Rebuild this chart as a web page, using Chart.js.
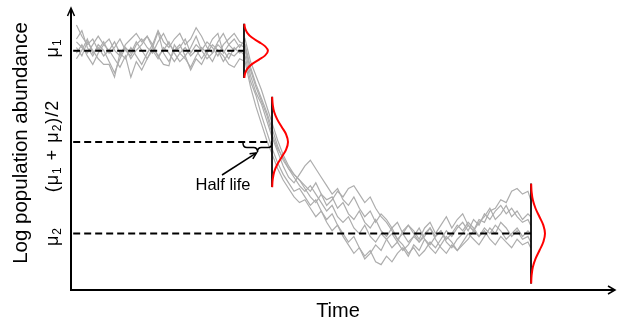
<!DOCTYPE html>
<html><head><meta charset="utf-8">
<script src="https://cdn.jsdelivr.net/npm/chart.js@4/dist/chart.umd.min.js"></script>
<style>html,body{margin:0;padding:0;background:#fff;}canvas{display:block;}</style>
</head><body>
<canvas id="c" width="617" height="320"></canvas>
<script>
// ---- Data (time in arbitrary units, log abundance in arbitrary units) ----
const times = [1,2,3,4,5,6,7,8,9,10,11,12,13,14,15,16,17,18,19,20,21,22,23,24,25,26,27,28,29,30,31,32,33,34,35,36,37,38,39,40,41,42,43,44,45,46,47,48,49,50,51,52,53,54,55,56,57,58,59,60,61,62,63,64,65,66,67,68,69,70,71,72,73,74,75,76,77,78,79,80,81,82,83,84,84.5];

const seriesA = [9.4,9.0,8.7,8.9,8.5,8.8,8.4,8.6,8.9,8.5,8.3,8.7,8.9,8.6,8.4,8.8,9.1,8.7,8.5,8.6,8.9,8.4,8.7,8.5,8.8,8.6,8.3,8.7,8.9,9.1,8.8,
  8.7,
  7.9,7.3,6.8,6.3,5.7,5.1,4.6,4.3,4.1,3.9,
  3.7,3.5,3.8,3.4,3.2,3.3,2.9,3.1,2.7,2.5,2.8,2.4,2.2,2.5,2.1,1.9,2.2,1.8,2.0,1.7,1.9,2.2,1.8,1.6,1.9,2.1,1.7,1.5,1.8,2.0,2.3,2.1,2.5,2.4,2.8,2.9,3.2,3.1,3.5,3.6,3.4,3.5,
  3.2];
const seriesB = [8.9,9.2,8.6,8.3,8.7,8.5,8.1,7.7,8.2,8.6,8.4,8.8,8.5,8.2,8.6,9.15,8.4,8.1,8.5,8.7,8.3,8.6,9.0,8.5,8.2,8.4,8.7,8.5,8.2,8.6,8.4,
  8.5,
  7.6,7.0,6.6,6.0,5.4,4.9,4.4,4.0,3.8,4.1,
  4.4,4.6,4.3,4.0,3.7,3.4,3.6,3.2,3.0,3.3,2.9,2.6,2.8,2.4,2.7,2.5,2.2,2.4,2.0,2.3,2.1,1.8,2.2,2.4,2.0,2.3,2.6,2.2,2.5,2.7,2.3,2.1,2.4,2.6,2.9,2.5,2.7,3.0,2.6,2.8,2.5,2.7,
  2.6];
const seriesC = [8.6,8.3,8.8,8.5,8.2,8.0,8.0,7.55,8.4,8.2,8.6,8.3,8.0,8.4,8.7,8.3,8.5,8.8,8.4,8.1,8.3,7.8,8.2,8.0,8.4,8.7,8.5,8.1,8.4,8.3,8.5,
  8.3,
  7.4,6.9,6.2,5.6,5.0,4.5,4.1,3.8,3.5,3.6,
  3.3,3.0,3.2,2.8,2.5,2.7,2.3,2.0,1.7,1.9,1.5,1.2,1.4,1.0,0.9,1.2,1.0,1.3,1.5,1.2,1.6,1.4,1.8,1.5,1.3,1.6,1.9,1.7,1.4,1.6,1.8,2.1,1.9,2.2,2.0,2.3,2.1,1.8,2.0,2.2,1.9,2.1,
  2.0];
const seriesD = [8.2,8.5,8.9,8.4,8.6,8.3,8.5,8.2,7.9,8.3,7.55,8.1,7.8,8.2,8.5,8.2,8.6,8.4,8.1,8.4,8.2,7.9,8.3,8.6,8.4,8.1,8.5,8.3,8.0,7.9,8.2,
  8.1,
  7.2,6.5,5.9,5.3,4.8,4.3,3.9,3.6,3.3,3.1,
  3.2,2.9,2.6,2.8,2.4,2.1,2.3,1.9,1.6,1.3,1.5,1.1,1.3,1.6,1.4,1.8,2.0,1.7,2.1,2.3,2.0,1.7,1.9,2.2,1.8,1.5,1.3,1.6,1.4,1.7,2.0,1.8,1.6,1.9,2.2,2.0,2.4,2.2,1.9,2.1,1.8,1.9,
  1.7];
const seriesE = [8.8,8.6,8.4,8.7,9.0,8.7,8.9,8.5,8.3,8.7,8.9,9.1,8.8,9.0,8.7,9.2,8.8,8.6,8.9,9.1,8.7,8.9,9.3,9.0,8.6,8.4,8.8,9.1,8.7,8.9,8.6,
  8.9,
  8.1,7.6,7.1,6.5,5.9,5.3,4.8,4.4,4.1,3.9,
  3.6,3.3,3.1,3.4,3.0,3.2,3.5,3.3,3.6,3.7,3.4,3.1,3.3,2.9,2.6,2.4,2.1,1.8,1.6,1.3,1.5,1.2,1.4,1.7,1.5,1.8,2.1,1.9,2.2,2.4,2.1,2.5,2.3,2.7,2.5,2.8,3.0,2.7,2.9,2.6,2.4,2.5,
  2.3];
const seriesF = [8.4,8.7,8.3,8.0,8.4,8.7,8.5,8.8,8.4,8.6,8.2,8.5,8.7,9.0,8.6,8.3,8.0,7.95,8.7,8.4,8.6,8.3,8.5,8.2,8.5,8.9,9.1,8.4,8.7,8.5,8.7,
  8.6,
  7.8,7.2,6.7,6.2,5.5,5.0,4.7,4.3,4.0,3.7,
  3.5,3.7,3.4,3.1,2.8,3.0,2.6,2.4,2.6,2.2,2.0,2.3,1.9,1.7,2.0,1.8,1.5,1.7,1.4,1.6,1.9,1.7,2.0,2.2,1.9,2.1,1.8,2.0,2.3,2.1,2.4,2.2,1.9,2.1,1.8,1.6,1.9,1.7,1.5,1.8,1.6,1.7,
  1.5];

// reference levels: mu1, (mu1+mu2)/2, mu2 and the times where they are checked
const levels = [8.48, 5.25, 2.0];
const levelTimes = [31.8, 36.95, 84.56];
const levelStart = 0.4;

// red density curves (time, value)
const dens1T = [31.86,32.0,32.4,33.2,34.5,35.7,36.2,35.7,34.5,33.2,32.4,32.0,31.86];
const dens1V = [9.44,9.28,9.12,8.96,8.80,8.64,8.48,8.32,8.16,8.00,7.84,7.68,7.52];
const dens2T = [36.98,37.08,37.35,37.91,38.74,39.54,39.89,39.54,38.74,37.91,37.35,37.08,36.98];
const dens2V = [6.85,6.58,6.31,6.05,5.78,5.52,5.25,4.98,4.72,4.45,4.19,3.92,3.65];
const dens3T = [84.59,84.67,84.91,85.40,86.13,86.82,87.13,86.82,86.13,85.40,84.91,84.67,84.59];
const dens3V = [3.77,3.48,3.18,2.89,2.59,2.30,2.0,1.70,1.41,1.11,0.82,0.52,0.23];

// ---- build datasets ----
const toPts = (ts, vs) => vs.map((v, i) => ({x: ts[i], y: v}));
const grayList = [seriesA, seriesB, seriesC, seriesD, seriesE, seriesF];
const datasets = [];
grayList.forEach(s => datasets.push({data: toPts(times, s), borderColor: '#adadad', borderWidth: 1.2, pointRadius: 0, tension: 0, order: 3}));
levels.forEach((lv, i) => datasets.push({data: [{x: levelStart, y: lv}, {x: levelTimes[i], y: lv}], borderColor: '#000', borderWidth: 2, borderDash: [7, 4], pointRadius: 0, order: 2}));
const dens = [[dens1T, dens1V], [dens2T, dens2V], [dens3T, dens3V]];
dens.forEach((d, i) => {
  const vs = d[1];
  datasets.push({data: [{x: levelTimes[i], y: vs[0]}, {x: levelTimes[i], y: vs[vs.length - 1]}], borderColor: '#000', borderWidth: 1, pointRadius: 0, order: 1});
  datasets.push({data: toPts(d[0], d[1]), borderColor: '#ff0000', borderWidth: 2, pointRadius: 0, tension: 0.4, order: 0});
});

const FONT = '"Liberation Sans", Arial, sans-serif';

function drawSegs(ctx, segs) {
  let x = 0;
  segs.forEach(s => {
    ctx.font = s.size + 'px ' + FONT;
    ctx.fillText(s.t, x, s.dy || 0);
    x += ctx.measureText(s.t).width;
  });
  return x;
}
function measureSegs(ctx, segs) {
  let w = 0;
  segs.forEach(s => { ctx.font = s.size + 'px ' + FONT; w += ctx.measureText(s.t).width; });
  return w;
}

const decor = {
  id: 'decor',
  afterDraw(chart) {
    const ctx = chart.ctx, a = chart.chartArea;
    const xs = chart.scales.x, ys = chart.scales.y;
    ctx.save();
    ctx.strokeStyle = '#000'; ctx.fillStyle = '#000';
    ctx.lineWidth = 2; ctx.setLineDash([]);
    // axes
    ctx.beginPath();
    ctx.moveTo(a.left, a.top + 1); ctx.lineTo(a.left, a.bottom); ctx.lineTo(a.right - 1, a.bottom);
    ctx.stroke();
    ctx.lineWidth = 1.5;
    ctx.beginPath();
    ctx.moveTo(a.left - 3.5, a.top + 8); ctx.lineTo(a.left, a.top); ctx.lineTo(a.left + 3.5, a.top + 8);
    ctx.moveTo(a.right - 7, a.bottom - 4); ctx.lineTo(a.right, a.bottom); ctx.lineTo(a.right - 7, a.bottom + 4);
    ctx.stroke();

    // axis titles
    ctx.textAlign = 'center'; ctx.textBaseline = 'alphabetic';
    ctx.font = '20px ' + FONT;
    ctx.fillText('Time', 338, 317);
    ctx.save();
    ctx.translate(27, 143); ctx.rotate(-Math.PI / 2);
    ctx.font = '20.5px ' + FONT;
    ctx.fillText('Log population abundance', 0, 0);
    ctx.restore();

    // mu labels (rotated)
    ctx.textAlign = 'left';
    if ('letterSpacing' in ctx) ctx.letterSpacing = '1px';
    const labels = [
      [{t: 'μ', size: 18}, {t: '1', size: 12, dy: 3}],
      [{t: '(μ', size: 18}, {t: '1', size: 12, dy: 3}, {t: ' + μ', size: 18}, {t: '2', size: 12, dy: 3}, {t: ')/2', size: 18}],
      [{t: 'μ', size: 18}, {t: '2', size: 12, dy: 3}]
    ];
    const labelShift = [-3, 4, 3];
    labels.forEach((segs, i) => {
      const py = ys.getPixelForValue(levels[i]) + labelShift[i];
      const w = measureSegs(ctx, segs);
      ctx.save();
      ctx.translate(58, py + w / 2); ctx.rotate(-Math.PI / 2);
      drawSegs(ctx, segs);
      ctx.restore();
    });
    if ('letterSpacing' in ctx) ctx.letterSpacing = '0px';

    // brace under the half-level line between mu1 time and half-life time
    const bx0 = xs.getPixelForValue(levelTimes[0]) - 1;
    const bx1 = xs.getPixelForValue(levelTimes[1]);
    const by = ys.getPixelForValue(levels[1]) + 1;
    const bm = (bx0 + bx1) / 2, h = 9, r = 4;
    ctx.lineWidth = 1.5;
    ctx.beginPath();
    ctx.moveTo(bx0, by);
    ctx.quadraticCurveTo(bx0, by + h / 2, bx0 + r, by + h / 2);
    ctx.lineTo(bm - r, by + h / 2);
    ctx.quadraticCurveTo(bm, by + h / 2, bm, by + h);
    ctx.quadraticCurveTo(bm, by + h / 2, bm + r, by + h / 2);
    ctx.lineTo(bx1 - r, by + h / 2);
    ctx.quadraticCurveTo(bx1, by + h / 2, bx1, by);
    ctx.stroke();

    // Half life label + arrow
    ctx.textAlign = 'center';
    ctx.font = '16.5px ' + FONT;
    ctx.fillText('Half life', 223, 190);
    const ax0 = 222, ay0 = 175, ax1 = bm - 1, ay1 = by + h + 1;
    ctx.lineWidth = 1.5;
    ctx.beginPath(); ctx.moveTo(ax0, ay0); ctx.lineTo(ax1, ay1); ctx.stroke();
    const ang = Math.atan2(ay1 - ay0, ax1 - ax0), L = 7;
    ctx.beginPath();
    ctx.moveTo(ax1 - L * Math.cos(ang - 0.45), ay1 - L * Math.sin(ang - 0.45));
    ctx.lineTo(ax1, ay1);
    ctx.lineTo(ax1 - L * Math.cos(ang + 0.45), ay1 - L * Math.sin(ang + 0.45));
    ctx.stroke();
    ctx.restore();
  }
};

new Chart(document.getElementById('c'), {
  type: 'line',
  data: {datasets},
  options: {
    responsive: false, devicePixelRatio: 1, animation: false,
    layout: {padding: {left: 71, right: 2, top: 8, bottom: 30}},
    plugins: {legend: {display: false}, tooltip: {enabled: false}},
    scales: {
      x: {type: 'linear', min: 0, max: 100, display: false},
      y: {type: 'linear', min: 0, max: 10, display: false}
    }
  },
  plugins: [decor]
});
</script>
</body></html>
